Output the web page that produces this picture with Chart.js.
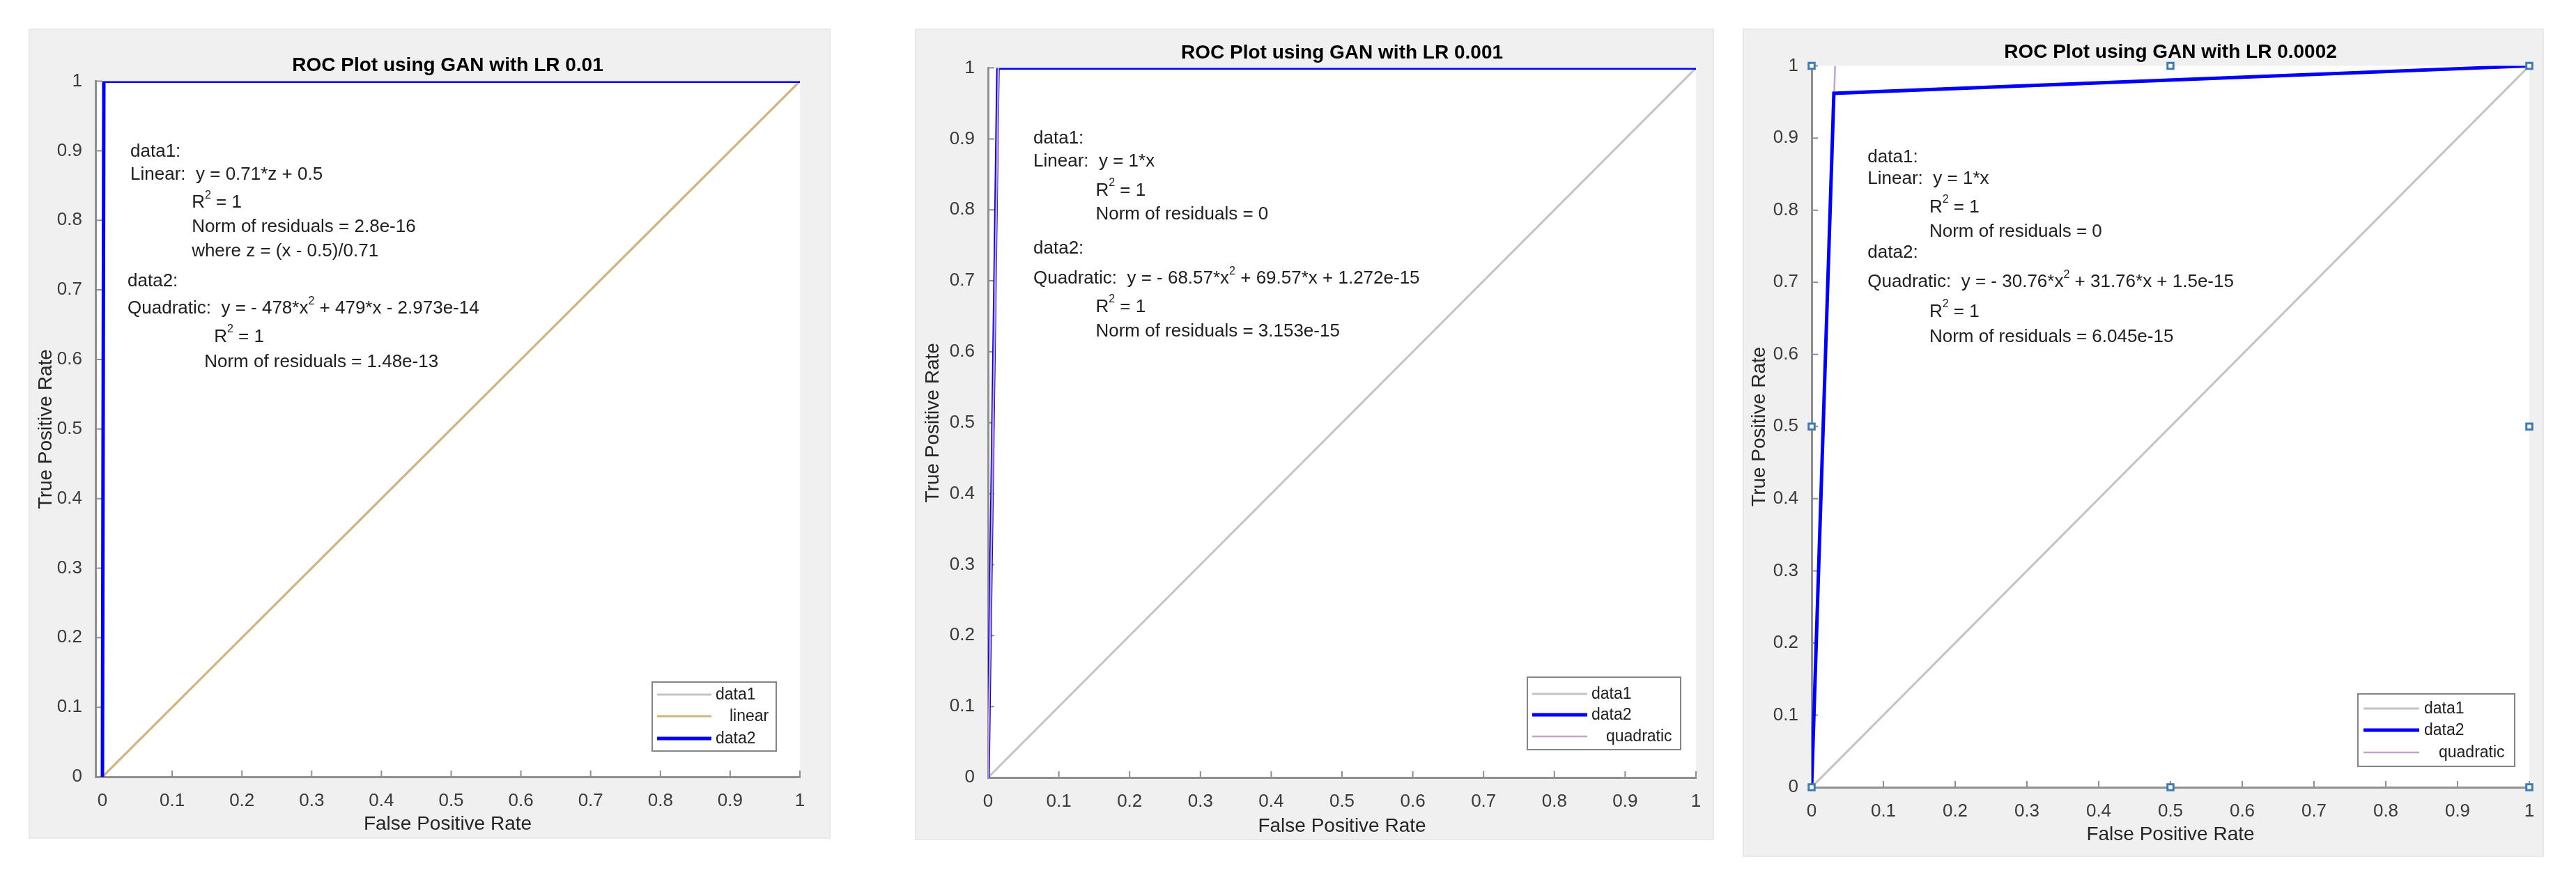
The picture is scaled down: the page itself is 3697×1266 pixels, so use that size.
<!DOCTYPE html>
<html>
<head>
<meta charset="utf-8">
<title>ROC Plots using GAN</title>
<script src="https://cdn.jsdelivr.net/npm/chart.js@4.4.0/dist/chart.umd.min.js"></script>
<style>
  html, body { margin: 0; padding: 0; background: #fff; }
  body { width: 3697px; height: 1266px; position: relative; overflow: hidden; }
  .panel { position: absolute; background: #f0f0f0; box-shadow: 0 0 0 2px #e8e8e8; }
  .panel canvas { display: block; }
</style>
</head>
<body>
<div class="panel" style="left:43px;top:43px;width:1147px;height:1159px"><canvas id="c1" width="1147" height="1159"></canvas></div>
<div class="panel" style="left:1315px;top:43px;width:1143px;height:1161px"><canvas id="c2" width="1143" height="1161"></canvas></div>
<div class="panel" style="left:2503px;top:43px;width:1146px;height:1185px"><canvas id="c3" width="1146" height="1185"></canvas></div>
<script>
// tick positions shared by both axes
const tickValues = [0, 0.1, 0.2, 0.3, 0.4, 0.5, 0.6, 0.7, 0.8, 0.9, 1];

// LR 0.01
const lr01Data1X = [0, 1];
const lr01Data1Y = [0, 1];
const lr01LinearX = [0, 1];
const lr01LinearY = [0, 1];
const lr01Data2X = [0, 0.002, 1];
const lr01Data2Y = [0, 1, 1];

// LR 0.001
const lr001Data1X = [0, 1];
const lr001Data1Y = [0, 1];
const lr001Data2X = [0, 0.014, 1];
const lr001Data2Y = [0, 1, 1];
const lr001QuadX = [0, 0.007, 0.0146];
const lr001QuadY = [0, 0.48, 1];

// LR 0.0002
const lr0002Data1X = [0, 1];
const lr0002Data1Y = [0, 1];
const lr0002Data2X = [0, 0.031, 1];
const lr0002Data2Y = [0, 0.962, 1];
const lr0002QuadX = [0, 0.016, 0.0327];
const lr0002QuadY = [0, 0.5, 1];
const lr0002HandleX = [0, 0.5, 1, 0, 1, 0, 0.5, 1];
const lr0002HandleY = [1, 1, 1, 0.5, 0.5, 0, 0, 0];

const FONT = '"Liberation Sans", Arial, Helvetica, sans-serif';
const AXIS_COLOR = '#8f8f8f';
const TEXT_COLOR = '#202020';

function pts(xs, ys) {
    return xs.map((x, i) => ({ x: x, y: ys[i] }));
}

function lineSet(label, xs, ys, color, width) {
    return {
        label: label,
        data: pts(xs, ys),
        showLine: true,
        borderColor: color,
        backgroundColor: color,
        borderWidth: width,
        pointRadius: 0,
        tension: 0
    };
}

// text with ^2 superscripts
function drawRich(ctx, text, x, y, size) {
    const parts = text.split('^');
    let cx = x;
    parts.forEach((p, i) => {
        if (i > 0) {
            const sup = p[0];
            ctx.font = Math.round(size * 0.62) + 'px ' + FONT;
            ctx.fillText(sup, cx, y - size * 0.42);
            cx += ctx.measureText(sup).width;
            p = p.slice(1);
        }
        ctx.font = size + 'px ' + FONT;
        ctx.fillText(p, cx, y);
        cx += ctx.measureText(p).width;
    });
}

// white plot area, inward ticks, fit notes and legend box
function decor(cfg) {
    return {
        id: 'decor',
        beforeDraw(chart) {
            const a = chart.chartArea;
            const ctx = chart.ctx;
            ctx.save();
            ctx.fillStyle = '#ffffff';
            ctx.fillRect(a.left, a.top, a.right - a.left, a.bottom - a.top);
            ctx.restore();
        },
        beforeDatasetsDraw(chart) {
            const a = chart.chartArea;
            const ctx = chart.ctx;
            const xs = chart.scales.x, ys = chart.scales.y;
            ctx.save();
            ctx.strokeStyle = AXIS_COLOR;
            ctx.lineWidth = 2;
            ctx.beginPath();
            tickValues.forEach(v => {
                const px = xs.getPixelForValue(v);
                ctx.moveTo(px, a.bottom);
                ctx.lineTo(px, a.bottom - 9);
                const py = ys.getPixelForValue(v);
                ctx.moveTo(a.left, py);
                ctx.lineTo(a.left + 9, py);
            });
            ctx.stroke();
            ctx.restore();
        },
        afterDraw(chart) {
            const a = chart.chartArea;
            const ctx = chart.ctx;
            const xs = chart.scales.x, ys = chart.scales.y;
            ctx.save();
            ctx.fillStyle = TEXT_COLOR;
            ctx.textBaseline = 'middle';
            ctx.textAlign = 'left';
            cfg.notes.forEach(n => {
                drawRich(ctx, n.t, xs.getPixelForValue(n.x), ys.getPixelForValue(n.y), 26);
            });

            const lg = cfg.legend;
            const bx = a.right - lg.right - lg.w;
            const by = a.bottom - lg.bottom - lg.h;
            ctx.fillStyle = '#ffffff';
            ctx.fillRect(bx, by, lg.w, lg.h);
            ctx.strokeStyle = '#858585';
            ctx.lineWidth = 2;
            ctx.strokeRect(bx, by, lg.w, lg.h);
            lg.items.forEach((label, i) => {
                const ds = chart.data.datasets.find(d => d.label === label);
                const ry = by + lg.rows[i];
                ctx.strokeStyle = ds.borderColor;
                ctx.lineWidth = ds.borderWidth;
                ctx.beginPath();
                ctx.moveTo(bx + lg.x0, ry);
                ctx.lineTo(bx + lg.x1, ry);
                ctx.stroke();
                ctx.fillStyle = TEXT_COLOR;
                ctx.font = '23px ' + FONT;
                ctx.fillText(label, bx + lg.tx + (lg.indent[label] || 0), ry + 1);
            });
            ctx.restore();
        }
    };
}

function makeAxis(min, title, titlePad, fit) {
    return {
        type: 'linear',
        min: min,
        max: 1,
        afterBuildTicks: s => { s.ticks = tickValues.map(v => ({ value: v })); },
        afterFit: fit,
        grid: { display: false },
        border: { display: true, color: AXIS_COLOR, width: 3 },
        ticks: {
            color: '#3a3a3a',
            padding: 11,
            font: { family: FONT, size: 26 },
            callback: v => String(+(+v).toFixed(1))
        },
        title: {
            display: true,
            text: title,
            color: '#262626',
            padding: titlePad,
            font: { family: FONT, size: 28 }
        }
    };
}

function makeChart(id, geo, datasets, cfg) {
    const canvas = document.getElementById(id);
    return new Chart(canvas.getContext('2d'), {
        type: 'scatter',
        data: { datasets: datasets },
        options: {
            responsive: false,
            animation: false,
            devicePixelRatio: 1,
            layout: { padding: { left: 0, right: geo.padRight, top: 0, bottom: 0 } },
            scales: {
                x: makeAxis(geo.xMin, 'False Positive Rate', { top: 4, bottom: geo.xTitlePad },
                    s => { s.height = geo.xH; }),
                y: makeAxis(0, 'True Positive Rate', { top: geo.yTitlePad, bottom: 4 },
                    s => { s.width = geo.yW; })
            },
            plugins: {
                legend: { display: false },
                tooltip: { enabled: false },
                title: {
                    display: true,
                    fullSize: false,
                    text: cfg.title,
                    color: '#000000',
                    font: { family: FONT, size: 28, weight: 'bold' },
                    padding: { top: geo.titleTop, bottom: geo.titleBottom }
                }
            }
        },
        plugins: [decor(cfg)]
    });
}

makeChart('c1',
    { xMin: -0.01, padRight: 42, xH: 87, yW: 94, titleTop: 34, titleBottom: 6, xTitlePad: 2, yTitlePad: 6 },
    [
        lineSet('data2', lr01Data2X, lr01Data2Y, '#0000ff', 5),
        lineSet('linear', lr01LinearX, lr01LinearY, '#d2b57e', 3),
        lineSet('data1', lr01Data1X, lr01Data1Y, '#c4c4c4', 3)
    ],
    {
        title: 'ROC Plot using GAN with LR 0.01',
        notes: [
            { t: 'data1:', x: 0.040, y: 0.899 },
            { t: 'Linear:  y = 0.71*z + 0.5', x: 0.040, y: 0.866 },
            { t: 'R^2 = 1', x: 0.128, y: 0.825 },
            { t: 'Norm of residuals = 2.8e-16', x: 0.128, y: 0.790 },
            { t: 'where z = (x - 0.5)/0.71', x: 0.128, y: 0.755 },
            { t: 'data2:', x: 0.036, y: 0.712 },
            { t: 'Quadratic:  y = - 478*x^2 + 479*x - 2.973e-14', x: 0.036, y: 0.673 },
            { t: 'R^2 = 1', x: 0.160, y: 0.632 },
            { t: 'Norm of residuals = 1.48e-13', x: 0.146, y: 0.596 }
        ],
        legend: {
            items: ['data1', 'linear', 'data2'], indent: { linear: 20 },
            w: 178, h: 99, right: 34, bottom: 37, rows: [18, 49, 81], x0: 7, x1: 85, tx: 91
        }
    });

makeChart('c2',
    { xMin: 0, padRight: 24, xH: 88, yW: 103, titleTop: 16, titleBottom: 5, xTitlePad: 1, yTitlePad: 7 },
    [
        lineSet('quadratic', lr001QuadX, lr001QuadY, '#c9a0c9', 2.5),
        lineSet('data2', lr001Data2X, lr001Data2Y, '#0000ff', 5),
        lineSet('data1', lr001Data1X, lr001Data1Y, '#c4c4c4', 3)
    ],
    {
        title: 'ROC Plot using GAN with LR 0.001',
        notes: [
            { t: 'data1:', x: 0.064, y: 0.901 },
            { t: 'Linear:  y = 1*x', x: 0.064, y: 0.868 },
            { t: 'R^2 = 1', x: 0.152, y: 0.827 },
            { t: 'Norm of residuals = 0', x: 0.152, y: 0.794 },
            { t: 'data2:', x: 0.064, y: 0.745 },
            { t: 'Quadratic:  y = - 68.57*x^2 + 69.57*x + 1.272e-15', x: 0.064, y: 0.703 },
            { t: 'R^2 = 1', x: 0.152, y: 0.663 },
            { t: 'Norm of residuals = 3.153e-15', x: 0.152, y: 0.629 }
        ],
        legend: {
            items: ['data1', 'data2', 'quadratic'], indent: { quadratic: 21 },
            w: 220, h: 104, right: 22, bottom: 40, rows: [24, 54, 85], x0: 7, x1: 86, tx: 92
        }
    });

const handles = {
    label: 'handles',
    data: pts(lr0002HandleX, lr0002HandleY),
    showLine: false,
    pointStyle: 'rect',
    pointRadius: 6,
    pointBorderWidth: 3,
    pointBorderColor: '#3d7ab8',
    pointBackgroundColor: '#ffffff',
    clip: false
};

makeChart('c3',
    { xMin: 0, padRight: 19, xH: 98, yW: 97, titleTop: 15, titleBottom: 3, xTitlePad: 13, yTitlePad: 5 },
    [
        handles,
        lineSet('data2', lr0002Data2X, lr0002Data2Y, '#0000ff', 5),
        lineSet('quadratic', lr0002QuadX, lr0002QuadY, '#c9a0c9', 2.5),
        lineSet('data1', lr0002Data1X, lr0002Data1Y, '#c4c4c4', 3)
    ],
    {
        title: 'ROC Plot using GAN with LR 0.0002',
        notes: [
            { t: 'data1:', x: 0.078, y: 0.873 },
            { t: 'Linear:  y = 1*x', x: 0.078, y: 0.843 },
            { t: 'R^2 = 1', x: 0.164, y: 0.804 },
            { t: 'Norm of residuals = 0', x: 0.164, y: 0.770 },
            { t: 'data2:', x: 0.078, y: 0.741 },
            { t: 'Quadratic:  y = - 30.76*x^2 + 31.76*x + 1.5e-15', x: 0.078, y: 0.700 },
            { t: 'R^2 = 1', x: 0.164, y: 0.659 },
            { t: 'Norm of residuals = 6.045e-15', x: 0.164, y: 0.624 }
        ],
        legend: {
            items: ['data1', 'data2', 'quadratic'], indent: { quadratic: 21 },
            w: 225, h: 104, right: 21, bottom: 30, rows: [21, 52, 84], x0: 8, x1: 88, tx: 95
        }
    });
</script>
</body>
</html>
